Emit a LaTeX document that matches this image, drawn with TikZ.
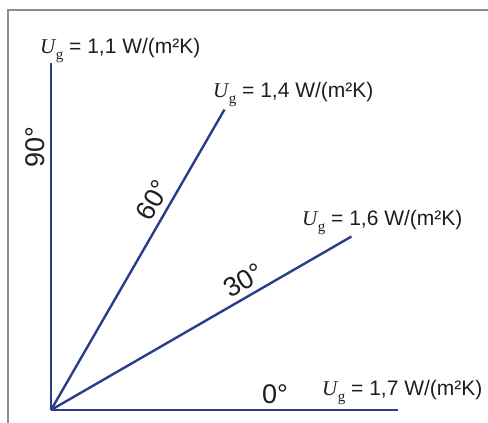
\documentclass[tikz,border=0pt]{standalone}
\usepackage{fontspec}
\setmainfont{Liberation Sans}
\newfontfamily\tnr{Liberation Serif}
\definecolor{raycol}{HTML}{2A3C8C}
\definecolor{txtcol}{HTML}{1E1E1E}
\definecolor{framecol}{HTML}{8C8C8C}
\newcommand\Ugsym{{\tnr\itshape U}\kern0.5pt\raisebox{-0.3em}{\fontsize{15}{15}\selectfont\tnr g}}
\tikzset{
  ray/.style={draw=raycol, line width=2.4pt},
  frameline/.style={draw=framecol, line width=2pt},
  ulabel/.style={inner sep=0pt, anchor=base west, text=txtcol, font=\fontsize{21}{22}\selectfont},
  anglabel/.style={inner sep=0pt, anchor=base, text=txtcol, font=\fontsize{27}{28}\selectfont}
}
\begin{document}
\begin{tikzpicture}[x=1pt,y=-1pt]
\useasboundingbox (0,0) rectangle (488,423);
\draw[frameline] (8,423) -- (8,10) -- (488,10);
\coordinate (O) at (51,410);
\coordinate (E0) at (398,410);
\coordinate (E30) at (351.5,236.5);
\coordinate (E60) at (224.5,109.5);
\coordinate (E90) at (51,63);
\draw[ray] (O) -- (E0);
\draw[ray] (O) -- (E30);
\draw[ray] (O) -- (E60);
\draw[ray] (O) -- (E90);
\node[anglabel, rotate=90] (a90) at (45,147) {90°};
\node[anglabel, rotate=60] (a60) at (161,204.5) {60°};
\node[anglabel, rotate=30] (a30) at (248.5,288.5) {30°};
\node[anglabel] (a0) at (275,403) {0°};
\node[ulabel] (u90) at (40,53) {\Ugsym\ = 1,1 W/(m²K)};
\node[ulabel] (u60) at (213,97) {\Ugsym\ = 1,4 W/(m²K)};
\node[ulabel] (u30) at (302,225) {\Ugsym\ = 1,6 W/(m²K)};
\node[ulabel] (u0) at (322,395) {\Ugsym\ = 1,7 W/(m²K)};
\end{tikzpicture}
\end{document}
